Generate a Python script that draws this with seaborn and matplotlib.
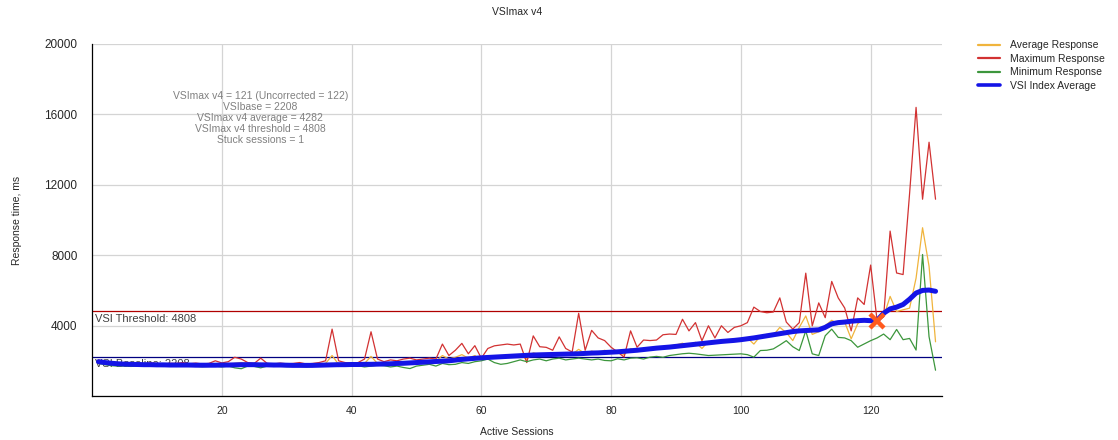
import numpy as np
import pandas as pd
import matplotlib.pyplot as plt
from matplotlib.lines import Line2D
import seaborn as sns

sns.set_style("white")
plt.rcParams['font.family'] = ['Liberation Sans', 'DejaVu Sans']

# ---------- data ----------
sessions = list(range(1, 131))

avg_resp = [1900, 1850, 1800, 1780, 1790, 1760, 1780, 1750, 1770, 1760,
            1740, 1760, 1750, 1770, 1740, 1760, 1730, 1750, 1780, 1760,
            1800, 1850, 1900, 1820, 1780, 1850, 1760, 1740, 1760, 1730,
            1740, 1760, 1720, 1750, 1780, 1850, 2300, 1800, 1760, 1780,
            1790, 1850, 2250, 1850, 1820, 1830, 1870, 1800, 1880, 1900,
            1930, 1950, 1980, 2300, 2100, 2200, 2350, 2150, 2300, 2050,
            2200, 2250, 2300, 2280, 2350, 2300, 2100, 2450, 2350, 2380,
            2400, 2450, 2350, 2380, 2650, 2400, 2550, 2450, 2600, 2450,
            2500, 2350, 2700, 2550, 2650, 2680, 2800, 2750, 2850, 2900,
            3000, 2850, 3050, 2700, 3100, 3000, 3150, 3050, 3200, 3250,
            3300, 2950, 3400, 3500, 3450, 3900, 3600, 3150, 3900, 4550,
            3500, 3650, 4000, 4300, 4100, 4200, 3250, 4100, 4400, 4300,
            4300, 4500, 5660, 4800, 4900, 4990, 6700, 9560, 7370, 3080]

max_resp = [2050, 1950, 1900, 1850, 1900, 1850, 1870, 1830, 1880, 1850,
            1820, 1860, 1850, 1900, 1830, 1870, 1820, 1850, 2000, 1880,
            1950, 2200, 2100, 1900, 1850, 2150, 1850, 1820, 1870, 1830,
            1850, 1900, 1820, 1850, 1900, 2000, 3800, 2000, 1900, 1870,
            1900, 2100, 3650, 2100, 1950, 2050, 2000, 2100, 2150, 2050,
            2100, 2150, 2100, 2950, 2300, 2600, 2990, 2400, 2860, 2150,
            2700, 2850, 2900, 2950, 2900, 2950, 1900, 3415, 2800, 2765,
            2600, 3360, 2700, 2500, 4700, 2600, 3730, 3300, 3150, 2770,
            2500, 2210, 3700, 2770, 3180, 3150, 3180, 3480, 3520, 3500,
            4360, 3700, 4170, 3140, 3990, 3300, 3990, 3610, 3900, 3990,
            4170, 5050, 4800, 4730, 4770, 5575, 4200, 3800, 4170, 6980,
            3985, 5290, 4450, 6510, 5575, 5000, 3700, 5575, 5200, 7440,
            4260, 4500, 9370, 6990, 6900, 11500, 16400, 11180, 14420, 11180]

min_resp = [1850, 1780, 1720, 1700, 1700, 1680, 1700, 1690, 1700, 1690,
            1680, 1700, 1680, 1700, 1680, 1690, 1660, 1680, 1700, 1650,
            1700, 1600, 1550, 1700, 1680, 1600, 1700, 1680, 1690, 1670,
            1680, 1690, 1650, 1680, 1700, 1720, 1700, 1680, 1690, 1700,
            1720, 1650, 1700, 1750, 1720, 1650, 1700, 1620, 1560, 1700,
            1750, 1800, 1700, 1850, 1780, 1800, 1900, 1850, 1950, 2000,
            2100, 1900, 1800, 1850, 1950, 2050, 1950, 2050, 2100, 2000,
            2100, 2150, 2050, 2100, 2150, 2100, 2050, 2100, 2020, 2000,
            2115, 2050, 2150, 2170, 2100, 2208, 2250, 2200, 2300, 2350,
            2400, 2430, 2396, 2350, 2300, 2320, 2340, 2360, 2380, 2396,
            2350, 2208, 2583, 2600, 2676, 2900, 3144, 2800, 2583, 3705,
            2396, 2300, 3424, 3798, 3330, 3300, 3144, 2770, 2957, 3144,
            3300, 3520, 3200, 3780, 3200, 3270, 2610, 8040, 3370, 1465]

vsi_avg = [1950, 1900, 1860, 1830, 1810, 1800, 1790, 1780, 1780, 1770,
           1770, 1760, 1760, 1760, 1760, 1750, 1750, 1750, 1750, 1760,
           1760, 1770, 1780, 1780, 1780, 1770, 1770, 1760, 1760, 1750,
           1740, 1740, 1740, 1740, 1750, 1760, 1770, 1780, 1780, 1790,
           1790, 1800, 1800, 1810, 1820, 1830, 1850, 1860, 1880, 1900,
           1920, 1940, 1960, 1980, 2000, 2040, 2080, 2110, 2140, 2170,
           2190, 2210, 2230, 2250, 2270, 2290, 2310, 2330, 2340, 2350,
           2360, 2370, 2380, 2390, 2400, 2420, 2440, 2450, 2470, 2490,
           2510, 2540, 2570, 2600, 2640, 2680, 2720, 2750, 2780, 2820,
           2860, 2900, 2940, 2980, 3020, 3060, 3100, 3130, 3160, 3200,
           3250, 3300, 3360, 3420, 3480, 3540, 3600, 3660, 3700, 3720,
           3740, 3760, 3900, 4100, 4170, 4200, 4250, 4280, 4300, 4280,
           4300, 4700, 4950, 5050, 5200, 5500, 5850, 6000, 6020, 5950]

vsi_base = 2208
vsi_threshold = 4808
vsimax = 121
vsimax_uncorrected = 122
vsimax_avg = 4282
stuck_sessions = 1

series_names = ["Average Response", "Maximum Response", "Minimum Response", "VSI Index Average"]
series_colors = ["#f0b43c", "#d23232", "#3c963c", "#1414e6"]

df = pd.DataFrame({"session": sessions, "avg": avg_resp, "max": max_resp,
                   "min": min_resp, "vsi": vsi_avg})

# ---------- figure ----------
fig, ax = plt.subplots(figsize=(11.18, 4.4), dpi=100)
fig.subplots_adjust(left=0.0823, right=0.8426, bottom=0.10, top=0.90)

ax.grid(True, color="#d4d4d4", lw=0.9, zorder=0)
ax.set_axisbelow(True)

# baseline / threshold
ax.axhline(vsi_threshold, color="#b00000", lw=0.9, zorder=1)
ax.axhline(vsi_base, color="#000080", lw=0.9, zorder=1)
ax.text(0.5, vsi_threshold - 130, f"VSI Threshold: {vsi_threshold}", fontsize=8,
        color="#404040", va="top", ha="left", zorder=1)
ax.text(0.5, vsi_base - 130, f"VSI Baseline: {vsi_base}", fontsize=8,
        color="#404040", va="top", ha="left", zorder=1)

sns.lineplot(data=df, x="session", y="avg", color=series_colors[0], lw=0.9, ax=ax, zorder=2)
sns.lineplot(data=df, x="session", y="max", color=series_colors[1], lw=0.9, ax=ax, zorder=2)
sns.lineplot(data=df, x="session", y="min", color=series_colors[2], lw=0.9, ax=ax, zorder=2)
sns.lineplot(data=df, x="session", y="vsi", color=series_colors[3], lw=3.6, ax=ax, zorder=3,
             solid_capstyle="round")

ax.plot([vsimax], [vsimax_avg], marker="x", ms=10, mew=3.2, color="#ff5a1e", zorder=4)

# stats box
info = (f"VSImax v4 = {vsimax} (Uncorrected = {vsimax_uncorrected})\n"
        f"VSIbase = {vsi_base}\n"
        f"VSImax v4 average = {vsimax_avg}\n"
        f"VSImax v4 threshold = {vsi_threshold}\n"
        f"Stuck sessions = {stuck_sessions}")
ax.text(0.198, 0.866, info, transform=ax.transAxes, ha="center", va="top",
        multialignment="center", fontsize=7.5, color="#808080", linespacing=1.12,
        zorder=5)

# axes
ax.set_xlim(0, 131)
ax.set_ylim(0, 20000)
ax.set_xticks([20, 40, 60, 80, 100, 120])
ax.set_yticks([0, 4000, 8000, 12000, 16000, 20000])
ax.set_yticklabels(["", "4000", "8000", "12000", "16000", "20000"])
ax.tick_params(axis="y", length=8.5, width=0.9, color="black", pad=2, labelsize=8.5)
ax.tick_params(axis="x", length=0, pad=7, labelsize=7.5)
for s in ["top", "right"]:
    ax.spines[s].set_visible(False)
for s in ["left", "bottom"]:
    ax.spines[s].set_color("black")
    ax.spines[s].set_linewidth(0.9)

ax.set_xlabel("Active Sessions", fontsize=7.5, labelpad=8)
ax.set_ylabel("Response time, ms", fontsize=7.5, labelpad=16)
ax.set_title("VSImax v4", fontsize=7.5, pad=21)

handles = [Line2D([], [], color=c, lw=(2.6 if i == 3 else 1.6)) for i, c in enumerate(series_colors)]
fig.legend(handles, series_names, loc="upper left", bbox_to_anchor=(0.866, 0.93),
           frameon=False, fontsize=7.5, handlelength=2.2, handletextpad=0.9,
           labelspacing=0.35)

fig.savefig("out.png", dpi=100)
